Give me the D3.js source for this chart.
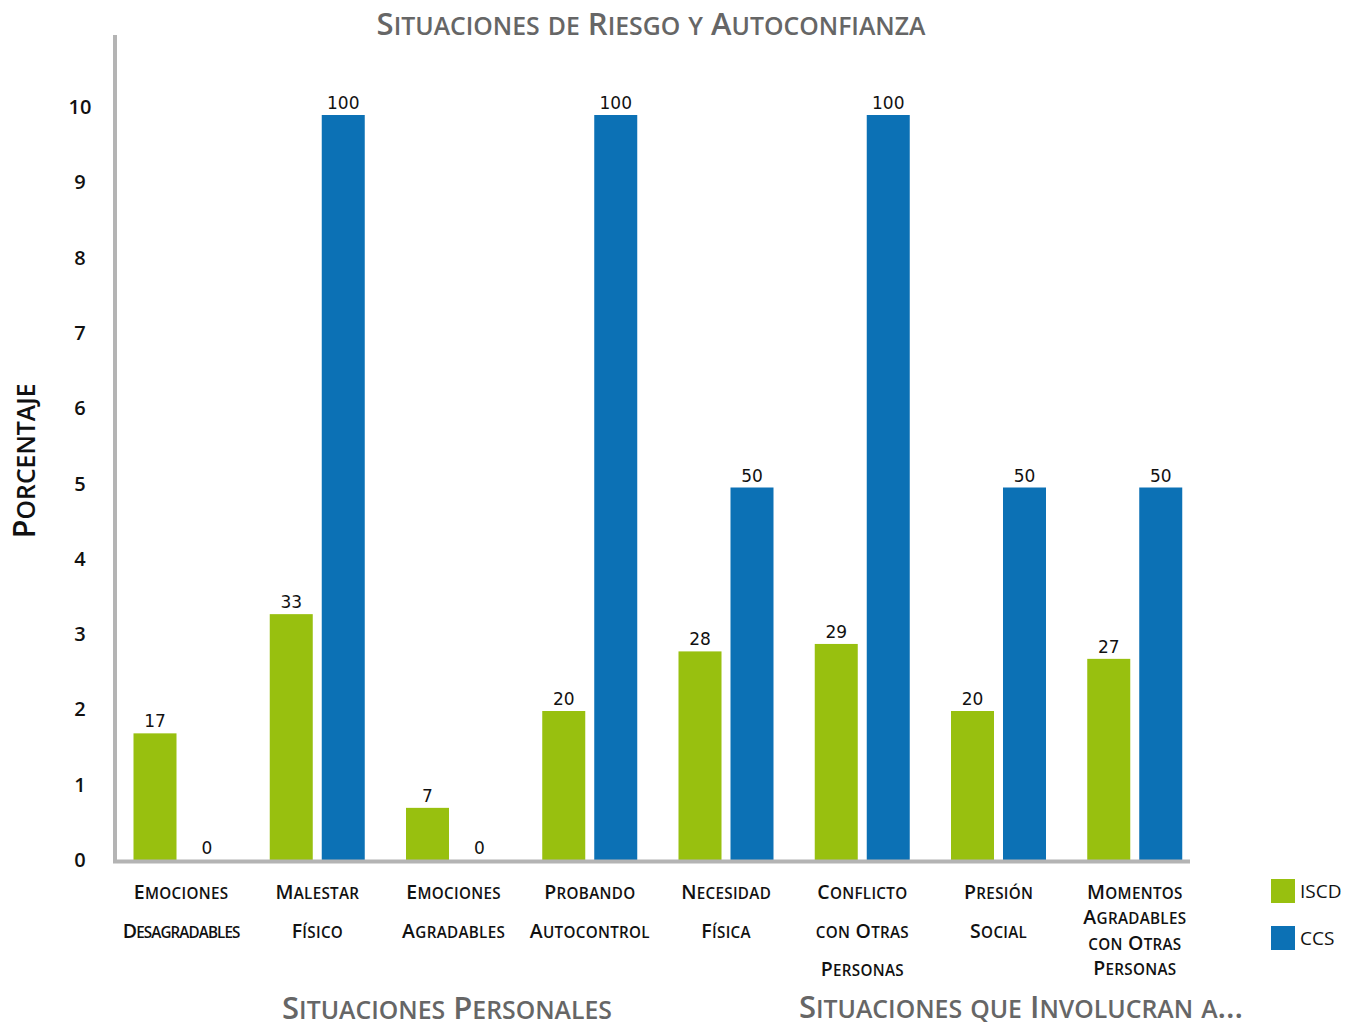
<!DOCTYPE html>
<html><head><meta charset="utf-8">
<script src="https://cdn.jsdelivr.net/npm/d3@7"></script>
<style>body{margin:0;background:#fff}svg{display:block}</style>
</head><body>
<svg id="c" width="1346" height="1028"></svg>
<script>
const categories = [
  ["Emociones","Desagradables"],
  ["Malestar","Físico"],
  ["Emociones","Agradables"],
  ["Probando","Autocontrol"],
  ["Necesidad","Física"],
  ["Conflicto","con Otras","Personas"],
  ["Presión","Social"],
  ["Momentos","Agradables","con Otras","Personas"]
];
const seriesNames = ["ISCD","CCS"];
const iscd = [17,33,7,20,28,29,20,27];
const ccs = [0,100,0,100,50,100,50,50];
const yTickLabels = [0,1,2,3,4,5,6,7,8,9,10];
const groupTitles = ["Situaciones Personales","Situaciones que Involucran a..."];
const title = "Situaciones de Riesgo y Autoconfianza";
const yTitle = "Porcentaje";

const colors = {ISCD:"#98c00f", CCS:"#0c71b5"};
const font = "'Open Sans', 'DejaVu Sans', sans-serif";
const svg = d3.select("#c");

// manual small caps: lowercase letters -> uppercase at reduced size
function smallCaps(sel, str, size, ratio) {
  const runs = [];
  for (const ch of str) {
    const low = ch !== ch.toUpperCase();
    const last = runs[runs.length-1];
    if (last && last.low === low) last.t += ch; else runs.push({low, t:ch});
  }
  sel.selectAll(null).data(runs).join("tspan")
    .attr("font-size", r => r.low ? size*ratio : size)
    .text(r => r.low ? r.t.toUpperCase() : r.t);
  return sel;
}

const keys = categories.map((c,i)=>"c"+i);
const x0 = d3.scaleBand().domain(keys).range([113,1203]).padding(0);
const x1 = d3.scaleBand().domain(seriesNames).range([20.5,115.5]).paddingInner(0.173);
const y = d3.scaleLinear().domain([0,100]).range([860,115]);
const yT = d3.scaleLinear().domain([0,10]).range([860,107]);

const data = categories.map((c,i)=>({key:keys[i], lines:c, vals:[{s:"ISCD",v:iscd[i]},{s:"CCS",v:ccs[i]}]}));

// title
smallCaps(svg.append("text").attr("x",651).attr("y",35).attr("text-anchor","middle")
  .attr("font-family",font).attr("font-weight",600).attr("fill","#666"), title, 31, 0.8);

// y title
smallCaps(svg.append("text").attr("transform","translate(35,461) rotate(-90)").attr("text-anchor","middle")
  .attr("font-family",font).attr("font-weight",600).attr("fill","#111"), yTitle, 31, 0.8);

// y tick labels
svg.append("g").selectAll("text").data(yTickLabels).join("text")
  .attr("x",80).attr("y",d=>yT(d)).attr("dy","0.35em").attr("text-anchor","middle")
  .attr("font-family",font).attr("font-weight",600).attr("font-size",20).attr("fill","#111").text(d=>d);

// bars
const g = svg.append("g").selectAll("g").data(data).join("g")
  .attr("transform",d=>`translate(${x0(d.key)},0)`);
g.selectAll("rect").data(d=>d.vals).join("rect")
  .attr("x",d=>x1(d.s)).attr("width",x1.bandwidth())
  .attr("y",d=>y(d.v)).attr("height",d=>y(0)-y(d.v))
  .attr("fill",d=>colors[d.s]);
g.selectAll("text.v").data(d=>d.vals).join("text").attr("class","v")
  .attr("x",d=>x1(d.s)+x1.bandwidth()/2).attr("y",d=>y(d.v)-6)
  .attr("text-anchor","middle").attr("font-family","'DejaVu Sans', sans-serif")
  .attr("font-size",17).attr("fill","#111").text(d=>d.v);

// axes lines
svg.append("line").attr("x1",115).attr("x2",115).attr("y1",35).attr("y2",862)
  .attr("stroke","#b4b4b4").attr("stroke-width",4);
svg.append("line").attr("x1",113).attr("x2",1190).attr("y1",y(0)+1.5).attr("y2",y(0)+1.5)
  .attr("stroke","#b4b4b4").attr("stroke-width",4);

// category labels
svg.append("g").selectAll("g").data(data).join("g")
  .attr("transform",d=>`translate(${x0(d.key)+x0.bandwidth()/2},0)`)
  .each(function(d){
    const step = d.lines.length>3 ? 25.3 : 38.5;
    d3.select(this).selectAll("text").data(d.lines).join("text")
      .attr("x",0).attr("y",(t,i)=>899+i*step).attr("text-anchor","middle")
      .attr("font-family",font).attr("font-weight",600).attr("fill","#111")
      .attr("letter-spacing", t => t.length>12 ? -0.9 : 0.3)
      .each(function(t){ smallCaps(d3.select(this), t, 19.5, 0.78); });
  });

// group titles
smallCaps(svg.append("text").attr("x",447).attr("y",1019).attr("text-anchor","middle")
  .attr("font-family",font).attr("font-weight",600).attr("fill","#666"), groupTitles[0], 31, 0.8);
smallCaps(svg.append("text").attr("x",1021).attr("y",1018).attr("text-anchor","middle")
  .attr("font-family",font).attr("font-weight",600).attr("fill","#666"), groupTitles[1], 31, 0.8);

// legend
const lg = svg.append("g").selectAll("g").data(seriesNames).join("g")
  .attr("transform",(d,i)=>`translate(1271,${879+i*47})`);
lg.append("rect").attr("width",24).attr("height",24).attr("fill",d=>colors[d]);
lg.append("text").attr("x",29).attr("y",12).attr("dy","0.35em")
  .attr("font-family",font).attr("font-size",19).attr("fill","#111").text(d=>d);
</script>
</body></html>
